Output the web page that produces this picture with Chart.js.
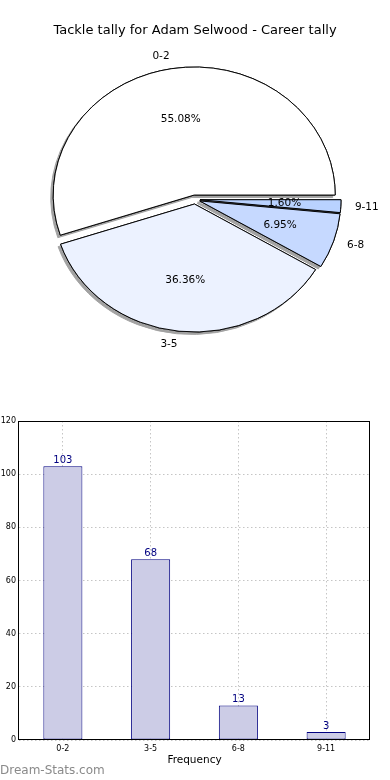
<!DOCTYPE html>
<html>
<head>
<meta charset="utf-8">
<script src="https://cdn.jsdelivr.net/npm/chart.js@4/dist/chart.umd.min.js"></script>
<style>
  body { margin: 0; background: #fff; width: 390px; height: 780px; position: relative; overflow: hidden; }
  #pieChart { position: absolute; left: 0; top: 0; }
  #barChart { position: absolute; left: 0; top: 380px; }
  #mark { position: absolute; left: 0; top: 763px; font: 12px "DejaVu Sans"; color: #8a8a8a; }
</style>
</head>
<body>
<canvas id="pieChart" width="390" height="361"></canvas>
<canvas id="barChart" width="390" height="400"></canvas>
<div id="mark">Dream-Stats.com</div>
<script>
const categories = ['0-2', '3-5', '6-8', '9-11'];
const tackles = [103, 68, 13, 3];
const sliceColors = ['#ffffff', '#ecf2ff', '#c6d9ff', '#b9d2ff'];
const yTicks = [0, 20, 40, 60, 80, 100, 120];

const total = tackles.reduce((a, b) => a + b, 0);

// pie is an ellipse in the original, squash y
const SY = 128 / 141;
const EXPLODE = 5;

Chart.defaults.font.family = 'DejaVu Sans';
Chart.defaults.color = '#000';

// chart.js goes clockwise, matplotlib counter-clockwise -> reverse order
const pieLabels = categories.slice().reverse();
const pieValues = tackles.slice().reverse();
const pieColors = sliceColors.slice().reverse();

function withArc(ctx, a, cx, cy, fn) {
    const mid = (a.startAngle + a.endAngle) / 2;
    ctx.save();
    ctx.translate(cx, cy);
    ctx.scale(1, SY);
    ctx.translate(-cx, -cy);
    ctx.translate(Math.cos(mid) * EXPLODE, Math.sin(mid) * EXPLODE);
    fn();
    ctx.restore();
}

const piePlugin = {
    id: 'piePlugin',
    beforeDatasetsDraw(chart) {
        const ctx = chart.ctx;
        const arcs = chart.getDatasetMeta(0).data;
        const cx = arcs[0].x, cy = arcs[0].y;
        // shadow pass
        arcs.forEach(a => withArc(ctx, a, cx, cy, () => {
            ctx.shadowColor = '#a2a2a2';
            ctx.shadowOffsetX = -2.5;
            ctx.shadowOffsetY = 2.5;
            ctx.shadowBlur = 0;
            a.draw(ctx);
        }));
        // wedges
        arcs.forEach(a => withArc(ctx, a, cx, cy, () => a.draw(ctx)));
        return false;
    },
    afterDraw(chart) {
        const ctx = chart.ctx;
        const arcs = chart.getDatasetMeta(0).data;
        ctx.save();
        ctx.fillStyle = '#000';
        ctx.font = '10.5px "DejaVu Sans"';
        ctx.textBaseline = 'middle';
        arcs.forEach((a, i) => {
            const mid = (a.startAngle + a.endAngle) / 2;
            const c = Math.cos(mid), s = Math.sin(mid);
            const ex = a.x + c * EXPLODE, ey = a.y + s * EXPLODE * SY;
            const r = a.outerRadius;
            ctx.textAlign = c >= 0 ? 'left' : 'right';
            ctx.fillText(pieLabels[i], ex + c * r * 1.1, ey + s * r * 1.1 * SY);
            ctx.textAlign = 'center';
            const pct = (pieValues[i] / total * 100).toFixed(2) + '%';
            ctx.fillText(pct, ex + c * r * 0.6, ey + s * r * 0.6 * SY);
        });
        ctx.restore();
    }
};

new Chart(document.getElementById('pieChart'), {
    type: 'pie',
    data: {
        labels: pieLabels,
        datasets: [{
            data: pieValues,
            backgroundColor: pieColors,
            borderColor: '#000',
            borderWidth: 1,
            borderJoinStyle: 'miter'
        }]
    },
    options: {
        responsive: false,
        animation: false,
        devicePixelRatio: 1,
        rotation: 90,
        radius: 141,
        plugins: {
            legend: { display: false },
            tooltip: { enabled: false },
            title: {
                display: true,
                text: 'Tackle tally for Adam Selwood - Career tally',
                color: '#000',
                font: { size: 13, weight: 'normal' },
                padding: { top: 22.4, bottom: 0 }
            }
        }
    },
    plugins: [piePlugin]
});

const barPlugin = {
    id: 'barPlugin',
    afterDraw(chart) {
        const ctx = chart.ctx;
        const area = chart.chartArea;
        ctx.save();
        ctx.strokeStyle = '#000';
        ctx.lineWidth = 1;
        ctx.strokeRect(Math.round(area.left) - 0.5, Math.round(area.top) + 0.5,
            Math.round(area.right - area.left), Math.round(area.bottom - area.top) - 1);
        ctx.fillStyle = '#000080';
        ctx.font = '10px "DejaVu Sans"';
        ctx.textAlign = 'center';
        ctx.textBaseline = 'bottom';
        chart.getDatasetMeta(0).data.forEach((bar, i) => {
            ctx.fillText(String(tackles[i]), bar.x, bar.y - 1);
        });
        ctx.restore();
    }
};

new Chart(document.getElementById('barChart'), {
    type: 'bar',
    data: {
        labels: categories,
        datasets: [{
            data: tackles,
            backgroundColor: '#ccccE6',
            borderColor: '#000080',
            borderWidth: 1,
            borderSkipped: false,
            barPercentage: 0.445,
            categoryPercentage: 1
        }]
    },
    options: {
        responsive: false,
        animation: false,
        devicePixelRatio: 1,
        layout: { padding: { top: 41, right: 20, bottom: 0, left: 0 } },
        plugins: {
            legend: { display: false },
            tooltip: { enabled: false }
        },
        scales: {
            x: {
                z: 1,
                offset: true,
                grid: { offset: false, color: 'rgba(150,150,150,0.55)', drawTicks: false },
                border: { display: false, dash: [1.5, 2.5] },
                ticks: { font: { size: 8 }, color: '#000', padding: 4 },
                title: {
                    display: true,
                    text: 'Frequency',
                    color: '#000',
                    font: { size: 10.5 },
                    padding: { top: 0, bottom: 13.7 }
                },
                afterFit(s) { s.height = 40; }
            },
            y: {
                z: 1,
                min: 0,
                max: 120,
                grid: { color: 'rgba(150,150,150,0.55)', drawTicks: false },
                border: { display: false, dash: [1.5, 2.5] },
                afterBuildTicks(s) { s.ticks = yTicks.map(v => ({ value: v })); },
                ticks: { font: { size: 8 }, color: '#000', padding: 3 },
                afterFit(s) { s.width = 19; }
            }
        }
    },
    plugins: [barPlugin]
});
</script>
</body>
</html>
